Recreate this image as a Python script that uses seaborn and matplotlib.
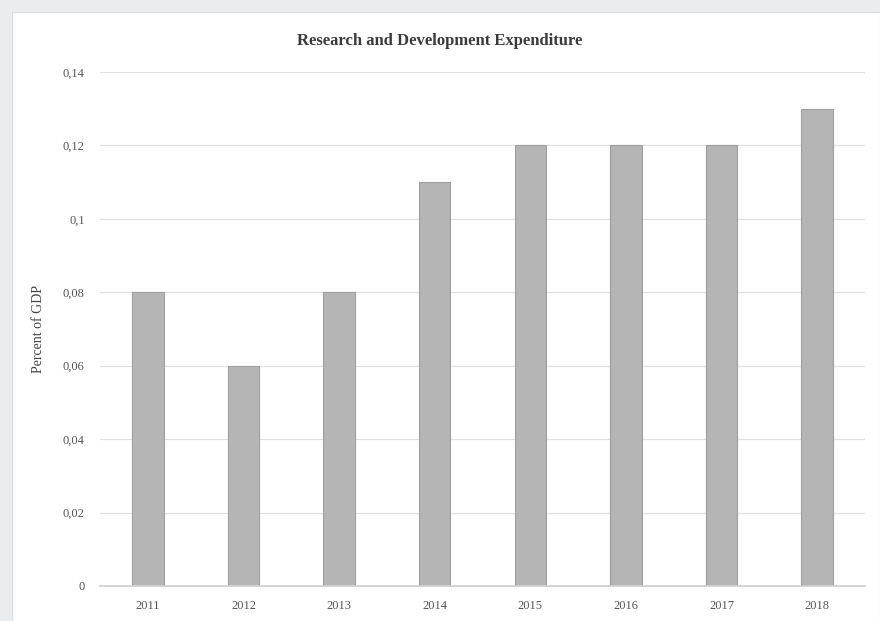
import matplotlib
matplotlib.use("Agg")
import matplotlib.pyplot as plt
import seaborn as sns
import pandas as pd
from matplotlib.ticker import FuncFormatter, MultipleLocator
from matplotlib.patches import Rectangle

years = ["2011", "2012", "2013", "2014", "2015", "2016", "2017", "2018"]
values = [0.08, 0.06, 0.08, 0.11, 0.12, 0.12, 0.12, 0.13]
title = "Research and Development Expenditure"
ylabel = "Percent of GDP"

df = pd.DataFrame({"year": years, "value": values})

sns.set_theme(style="white")
plt.rcParams["font.family"] = ["Liberation Serif", "DejaVu Serif"]

fig = plt.figure(figsize=(8.8, 6.21), dpi=100)
fig.patch.set_facecolor("#e9edf0")
bg = fig.add_axes([0, 0, 1, 1], zorder=-5)
bg.set_axis_off()
bg.add_patch(Rectangle((12/880, 0), 1 - 12/880, 1 - 12/621,
                       transform=bg.transAxes, facecolor="white",
                       edgecolor="#d8dcdf", linewidth=0.8))

ax = fig.add_axes([100/880, 35/621, 765/880, 514/621], zorder=1)
ax.set_facecolor("none")

sns.barplot(data=df, x="year", y="value", ax=ax, color="#b5b5b5",
            width=0.33, edgecolor="#9e9e9e", linewidth=0.8, saturation=1)

ax.set_ylim(0, 0.14)
ax.yaxis.set_major_locator(MultipleLocator(0.02))
ax.yaxis.set_major_formatter(FuncFormatter(lambda v, p: ("%g" % round(v, 4)).replace(".", ",")))
ax.grid(axis="y", color="#e2e2e2", linewidth=0.9)
ax.set_axisbelow(True)
for s in ["left", "right", "top"]:
    ax.spines[s].set_visible(False)
ax.spines["bottom"].set_color("#cfcfcf")
ax.tick_params(axis="both", length=0, labelsize=9, colors="#555555")
ax.tick_params(axis="x", pad=10)
ax.tick_params(axis="y", pad=11)
ax.set_xlabel("")
ax.set_ylabel(ylabel, fontsize=10, color="#444444")
ax.yaxis.set_label_coords(-55/765, 0.5)
fig.text(0.5, 1 - 41/621, title, ha="center", va="center",
         fontsize=12, fontweight="bold", color="#3a3a3a")

fig.savefig("out.png", dpi=100, facecolor=fig.get_facecolor())
